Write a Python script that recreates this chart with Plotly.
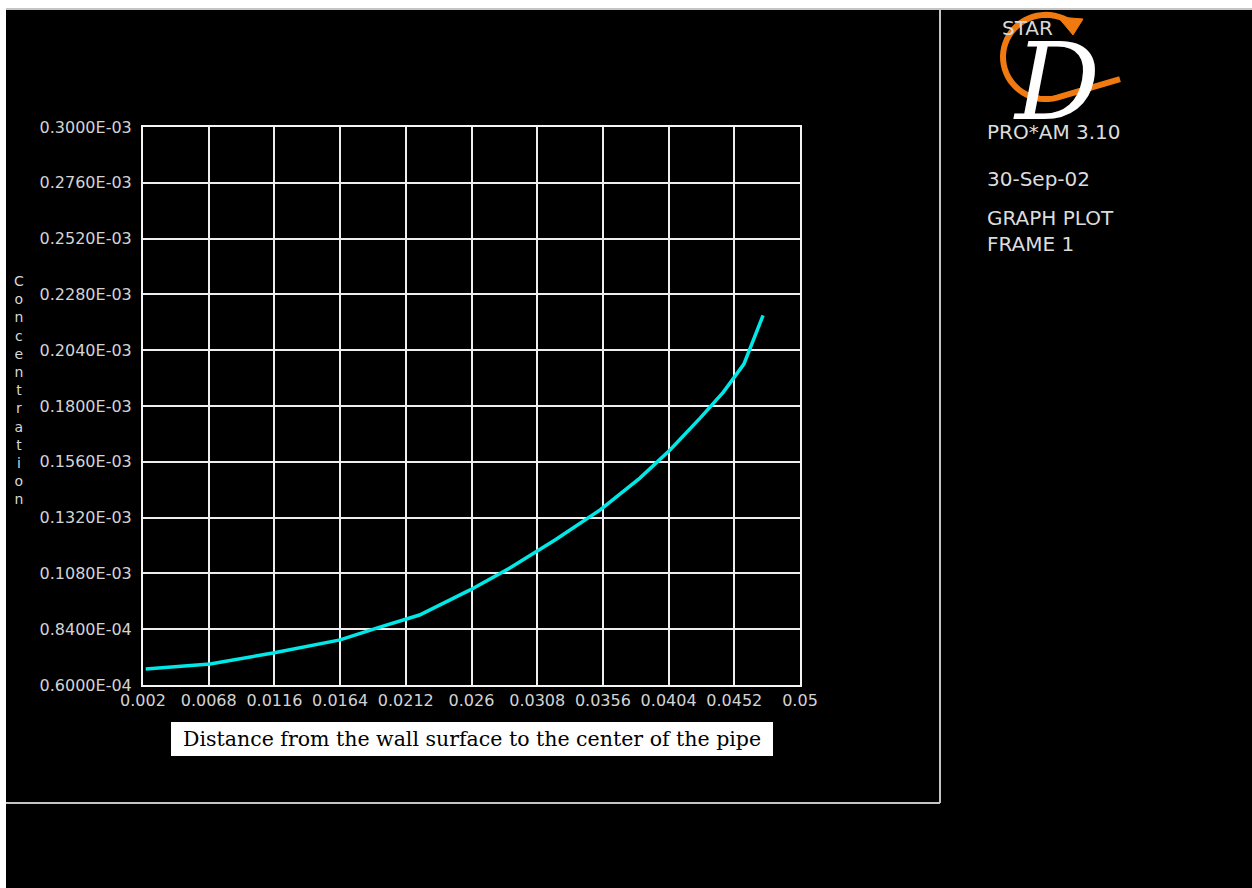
import numpy as np
import plotly.graph_objects as go

# ---- data ----
distance = [0.0022, 0.0069, 0.0115, 0.0164, 0.0193, 0.0222, 0.0259, 0.0288,
            0.0321, 0.0354, 0.0383, 0.0405, 0.0427, 0.0444, 0.0459, 0.0473]
concentration = [6.69e-5, 6.90e-5, 7.38e-5, 7.94e-5, 8.49e-5, 9.01e-5, 1.009e-4, 1.103e-4,
                 1.224e-4, 1.353e-4, 1.490e-4, 1.611e-4, 1.748e-4, 1.860e-4, 1.980e-4, 2.190e-4]

x_tickvals = [0.002, 0.0068, 0.0116, 0.0164, 0.0212, 0.026, 0.0308, 0.0356, 0.0404, 0.0452, 0.05]
x_ticktext = ["0.002", "0.0068", "0.0116", "0.0164", "0.0212", "0.026", "0.0308",
              "0.0356", "0.0404", "0.0452", "0.05"]
y_tickvals = [6.0e-5, 8.4e-5, 1.08e-4, 1.32e-4, 1.56e-4, 1.8e-4, 2.04e-4, 2.28e-4,
              2.52e-4, 2.76e-4, 3.0e-4]
y_ticktext = ["0.6000E-04", "0.8400E-04", "0.1080E-03", "0.1320E-03", "0.1560E-03",
              "0.1800E-03", "0.2040E-03", "0.2280E-03", "0.2520E-03", "0.2760E-03",
              "0.3000E-03"]

x_title = "Distance from the wall surface to the center of the pipe"
y_title = "Concentration"
side_texts = ["PRO*AM 3.10", "30-Sep-02", "GRAPH PLOT<br>FRAME 1"]
side_y = [132, 179, 231]

# ---- layout geometry (page pixels -> paper coords) ----
PL, PR, PT, PB = 143, 800, 127, 685
OX, OY = 6, 8          # page offset of the figure (body margin)
W, H = 1246, 880


def px(x):
    return (x - PL) / (PR - PL)


def py(y):
    return (PB - y) / (PB - PT)


fig = go.Figure()
fig.add_trace(go.Scatter(x=distance, y=concentration, mode="lines",
                         line=dict(color="#00e8e8", width=3.5), showlegend=False))

tickfont = dict(family="DejaVu Sans", size=16, color="#d4d4d4")
axis_common = dict(showgrid=True, gridcolor="#eeeeee", gridwidth=2,
                   showline=True, linecolor="#f4f4f4", linewidth=2, mirror=True,
                   zeroline=False, ticks="", tickfont=tickfont)

fig.update_xaxes(range=[0.002, 0.05], tickvals=x_tickvals, ticktext=x_ticktext, **axis_common)
fig.update_yaxes(range=[6.0e-5, 3.0e-4], tickvals=y_tickvals, ticktext=y_ticktext,
                 ticklabelstandoff=6, **axis_common)

shapes = []
frame_col = "#c4c4c4"
# outer frame lines
shapes.append(dict(type="line", xref="paper", yref="paper", x0=px(6), x1=px(1252),
                   y0=py(9), y1=py(9), line=dict(color=frame_col, width=2)))
shapes.append(dict(type="line", xref="paper", yref="paper", x0=px(940), x1=px(940),
                   y0=py(9), y1=py(803), line=dict(color=frame_col, width=2)))
shapes.append(dict(type="line", xref="paper", yref="paper", x0=px(6), x1=px(940),
                   y0=py(803), y1=py(803), line=dict(color=frame_col, width=2)))
# x title white box
shapes.append(dict(type="rect", xref="paper", yref="paper", x0=px(171), x1=px(773),
                   y0=py(722), y1=py(756), fillcolor="white", line=dict(width=0)))

# logo orange arc
cx, cy, r = 1046, 57, 43
th = np.radians(np.linspace(55, 285, 40))
pts = [(cx + r * np.cos(t), cy - r * 0.98 * np.sin(t)) for t in th]
pts.append((1120, 79))
path = "M " + " L ".join(f"{px(a):.5f},{py(b):.5f}" for a, b in pts)
shapes.append(dict(type="path", xref="paper", yref="paper", path=path,
                   line=dict(color="#f07a10", width=6)))
# arrow head
tri = [(1058, 17), (1083, 19), (1073, 35)]
shapes.append(dict(type="path", xref="paper", yref="paper",
                   path="M " + " L ".join(f"{px(a):.5f},{py(b):.5f}" for a, b in tri) + " Z",
                   fillcolor="#f07a10", line=dict(color="#f07a10", width=1)))

annotations = []
annotations.append(dict(x=px(472), y=py(739), xref="paper", yref="paper", text=x_title,
                        showarrow=False, font=dict(family="DejaVu Serif", size=20.5, color="black"),
                        xanchor="center", yanchor="middle"))
annotations.append(dict(x=px(19), y=py(390), xref="paper", yref="paper",
                        text="<br>".join(list(y_title)), showarrow=False,
                        font=dict(family="DejaVu Sans", size=14, color="#d8d8d8"),
                        xanchor="center", yanchor="middle"))
# logo texts
annotations.append(dict(x=px(1027), y=py(28), xref="paper", yref="paper", text="STAR",
                        showarrow=False, font=dict(family="DejaVu Sans", size=20, color="#d8d8d8"),
                        xanchor="center", yanchor="middle"))
annotations.append(dict(x=px(1056), y=py(82), xref="paper", yref="paper", text="<i>D</i>",
                        showarrow=False, font=dict(family="DejaVu Serif", size=106, color="white"),
                        xanchor="center", yanchor="middle"))
for t, yy in zip(side_texts, side_y):
    annotations.append(dict(x=px(985), y=py(yy), xref="paper", yref="paper", text=t,
                            showarrow=False, align="left",
                            font=dict(family="DejaVu Sans", size=20, color="#dcdcdc"),
                            xanchor="left", yanchor="middle"))

fig.update_layout(width=W, height=H, paper_bgcolor="black", plot_bgcolor="black",
                  margin=dict(l=PL - OX, r=OX + W - PR, t=PT - OY, b=OY + H - PB),
                  shapes=shapes, annotations=annotations, showlegend=False)

fig.write_html("out.html",
               post_script="document.body.style.margin='8px 0 0 6px';"
                           "document.body.style.overflow='hidden';")
